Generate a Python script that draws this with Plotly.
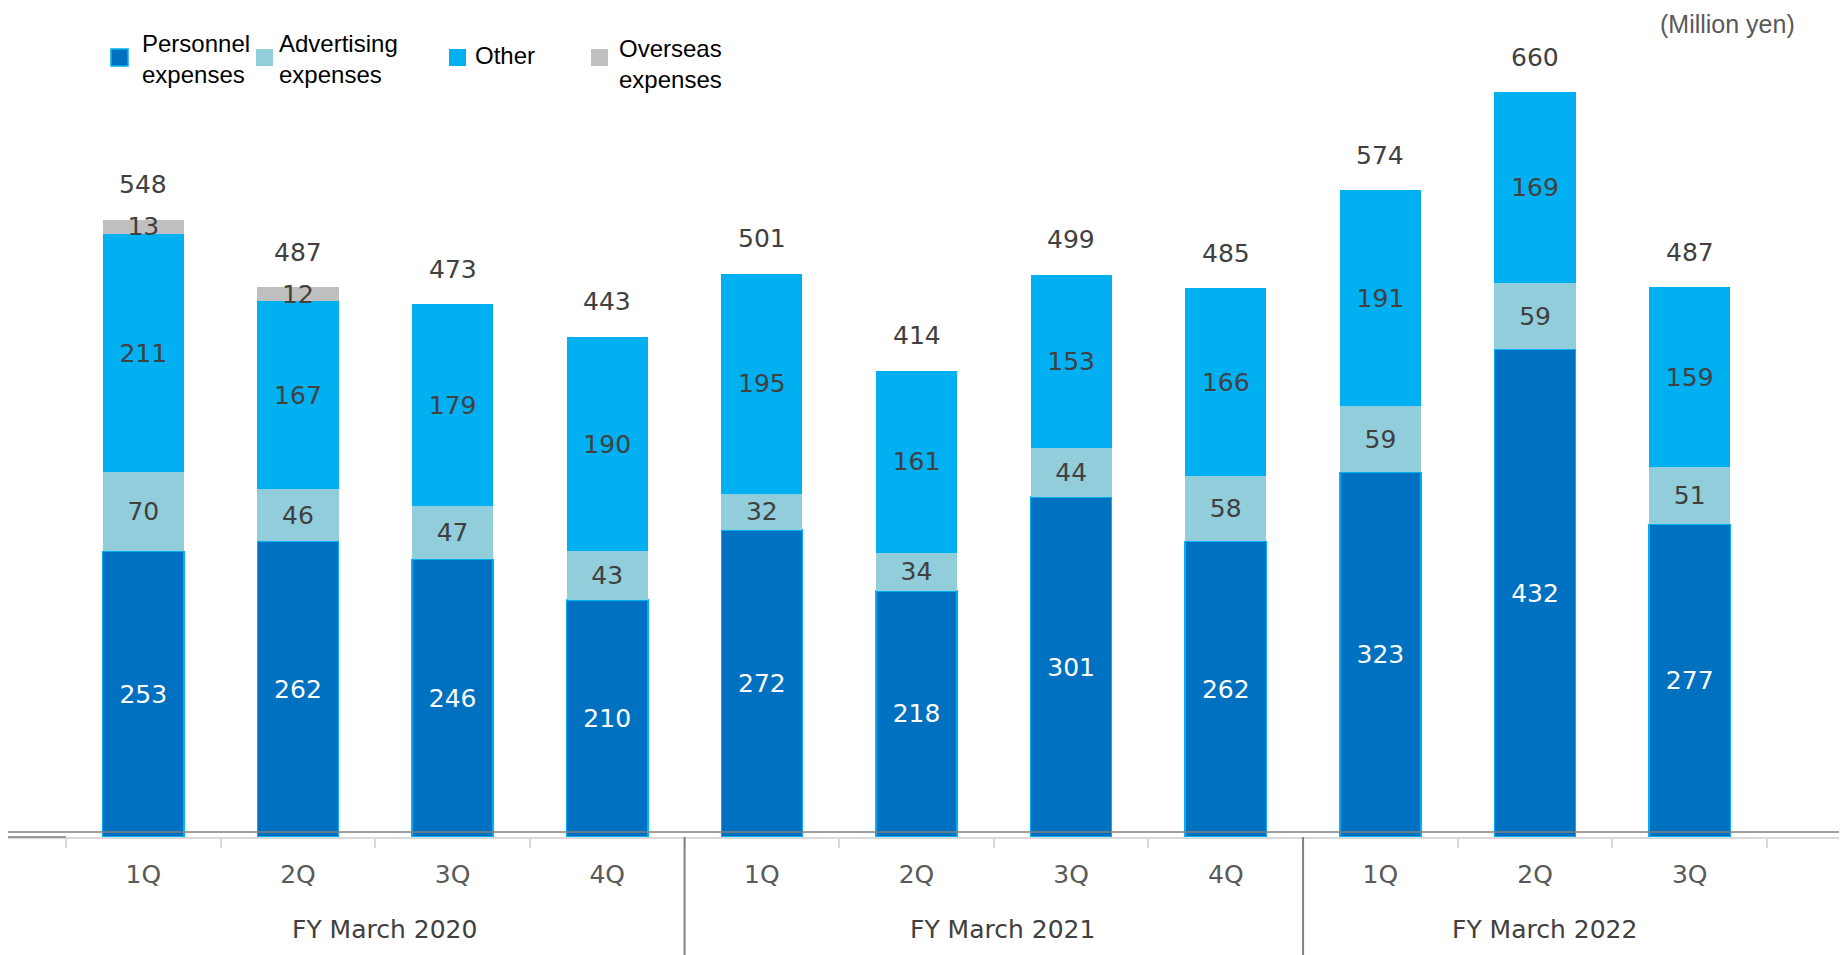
import plotly.graph_objects as go

# ---------------- data ----------------
quarters = ["1Q", "2Q", "3Q", "4Q", "1Q", "2Q", "3Q", "4Q", "1Q", "2Q", "3Q"]
fiscal_years = ["FY March 2020", "FY March 2021", "FY March 2022"]
quarters_per_year = [4, 4, 3]

personnel = [253, 262, 246, 210, 272, 218, 301, 262, 323, 432, 277]
advertising = [70, 46, 47, 43, 32, 34, 44, 58, 59, 59, 51]
other = [211, 167, 179, 190, 195, 161, 153, 166, 191, 169, 159]
overseas = [13, 12, None, None, None, None, None, None, None, None, None]
totals = [548, 487, 473, 443, 501, 414, 499, 485, 574, 660, 487]

series_names = ["Personnel<br>expenses", "Advertising<br>expenses", "Other", "Overseas<br>expenses"]
series_colors = ["#0070C0", "#92CDDC", "#00B0F0", "#BFBFBF"]
unit_label = "(Million yen)"

# ---------------- geometry helpers (page pixel -> paper) ----------------
OFF = 8                      # page body margin
PAGE_W, PAGE_H = 1847, 955
W, H = PAGE_W - OFF, PAGE_H - OFF
BASE = 837                   # page y of the bar baseline
TOP = 20                     # page y of plot top
ML, MR = 0, 0
MT = TOP - OFF
MB = PAGE_H - BASE
PW, PH = W - ML - MR, H - MT - MB
PLOT_LEFT = OFF + ML


def px_x(px):
    return (px - PLOT_LEFT) / PW


def px_y(py):
    return (BASE - py) / PH


VALUE_FONT = "DejaVu Sans, Verdana, sans-serif"
LEGEND_FONT = "Liberation Sans, Arial, sans-serif"

x = list(range(len(quarters)))
series = [personnel, advertising, other, overseas]

fig = go.Figure()
for i, (vals, name, color) in enumerate(zip(series, series_names, series_colors)):
    txt = [str(v) if v else "" for v in vals]
    fig.add_trace(go.Bar(
        x=x, y=vals, name=name.replace("<br>", " "),
        marker=dict(color=color,
                    line=dict(color="#00B0F0" if i == 0 else color, width=1.5 if i == 0 else 0)),
        width=0.525,
        text=txt, textposition="inside", insidetextanchor="middle",
        constraintext="none", textangle=0,
        insidetextfont=dict(family=VALUE_FONT, size=25,
                            color="#FFFFFF" if i == 0 else "#404040"),
        showlegend=False, hoverinfo="x+y+name",
    ))

annotations = []
shapes = []

# totals above bars
for i in x:
    top = sum(s[i] for s in series if s[i])
    annotations.append(dict(x=i, y=top, xref="x", yref="y", text=str(totals[i]),
                            showarrow=False, yanchor="middle", yshift=35,
                            font=dict(family=VALUE_FONT, size=25, color="#404040")))

# fiscal year group labels and separators
start = -0.5
for k, (fy, n) in enumerate(zip(fiscal_years, quarters_per_year)):
    center = start + n / 2
    annotations.append(dict(x=center, y=px_y(929), xref="x", yref="paper", text=fy,
                            showarrow=False, yanchor="middle", xshift=9,
                            font=dict(family=VALUE_FONT, size=25, color="#404040")))
    start += n
    if k < len(fiscal_years) - 1:
        shapes.append(dict(type="line", xref="x", yref="paper", x0=start, x1=start,
                           y0=0, y1=px_y(PAGE_H), line=dict(color="#808080", width=2)))

# double baseline
shapes.append(dict(type="line", xref="paper", yref="paper", x0=0, x1=1,
                   y0=px_y(832), y1=px_y(832), line=dict(color="#7F7F7F", width=1.5),
                   layer="above"))
shapes.append(dict(type="line", xref="paper", yref="paper", x0=0, x1=px_x(66),
                   y0=0, y1=0, line=dict(color="#7F7F7F", width=1.5), layer="above"))

# legend (manual, to match the reference's irregular layout)
legend_layout = [  # (square left px, text left px, text center y px)
    (111, 140, 59),
    (256, 277, 59),
    (449, 473, 56),
    (591, 617, 64),
]
for (sq, tx, ty), name, color, i in zip(legend_layout, series_names, series_colors, range(4)):
    shapes.append(dict(type="rect", xref="paper", yref="paper",
                       x0=px_x(sq), x1=px_x(sq + 17), y0=px_y(66), y1=px_y(49),
                       fillcolor=color,
                       line=dict(color="#00B0F0" if i == 0 else color, width=1.5 if i == 0 else 0)))
    annotations.append(dict(x=px_x(tx), y=px_y(ty), xref="paper", yref="paper", text=name,
                            showarrow=False, xanchor="left", yanchor="middle", align="left",
                            font=dict(family=LEGEND_FONT, size=24, color="#000000")))

annotations.append(dict(x=px_x(1797), y=px_y(OFF), xref="paper", yref="paper", text=unit_label,
                        showarrow=False, xanchor="right", yanchor="top",
                        font=dict(family=LEGEND_FONT, size=25, color="#595959")))

ppu = 1701 / 11
x_left = -0.5 - (66 - PLOT_LEFT) / ppu
x_right = x_left + PW / ppu

fig.update_layout(
    width=W, height=H,
    margin=dict(l=ML, r=MR, t=MT, b=MB, pad=0),
    barmode="stack",
    plot_bgcolor="white", paper_bgcolor="white",
    annotations=annotations, shapes=shapes,
    xaxis=dict(range=[x_left, x_right], tickvals=x, ticktext=quarters, ticks="",
               showgrid=False, zeroline=False, showline=True, linecolor="#D9D9D9", linewidth=1.5,
               tickfont=dict(family=VALUE_FONT, size=25, color="#595959"),
               ticklabelstandoff=14,
               minor=dict(tickvals=[v - 0.5 for v in range(len(quarters) + 1)], ticks="outside",
                          ticklen=9, tickcolor="#D9D9D9", tickwidth=1.5, showgrid=False)),
    yaxis=dict(range=[0, PH / (745 / 660)], visible=False, showgrid=False, zeroline=False),
)

fig.write_html("out.html")
